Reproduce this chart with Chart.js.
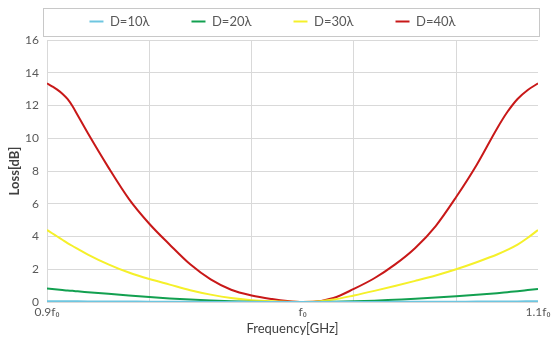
<!DOCTYPE html>
<html>
<head>
<meta charset="utf-8">
<script src="https://cdn.jsdelivr.net/npm/chart.js@4"></script>
<style>
  html, body { margin: 0; padding: 0; background: #fff; }
  #wrap { width: 556px; height: 340px; }
</style>
</head>
<body>
<div id="wrap"><canvas id="myChart"></canvas></div>
<script>
// sample index along the frequency axis (0 = 0.9f0, 50 = f0, 96 = 1.1f0)
const samples = [0, 1, 2, 3, 4, 5, 6, 8, 12, 16, 20, 24, 28, 32, 36, 40, 44, 47, 50, 52, 56, 60, 64, 68, 72, 76, 80, 84, 88, 90, 92, 94, 96];

const loss10 = [0.05, 0.049, 0.047, 0.046, 0.044, 0.043, 0.041, 0.038, 0.032, 0.026, 0.02, 0.015, 0.01, 0.007, 0.004, 0.002, 0.001, 0, 0, 0, 0.001, 0.003, 0.005, 0.008, 0.011, 0.015, 0.02, 0.025, 0.031, 0.035, 0.038, 0.044, 0.05];
const loss20 = [0.82, 0.79, 0.76, 0.73, 0.7, 0.68, 0.65, 0.6, 0.5, 0.4, 0.3, 0.22, 0.15, 0.09, 0.05, 0.02, 0.005, 0.001, 0, 0, 0.01, 0.04, 0.08, 0.14, 0.2, 0.27, 0.35, 0.44, 0.54, 0.6, 0.66, 0.73, 0.8];
const loss30 = [4.4, 4.2, 4.0, 3.8, 3.6, 3.42, 3.25, 2.9, 2.3, 1.8, 1.4, 1.06, 0.72, 0.45, 0.24, 0.11, 0.04, 0.01, 0, 0.01, 0.15, 0.4, 0.68, 0.98, 1.29, 1.62, 2.0, 2.43, 2.9, 3.18, 3.5, 3.92, 4.4];
const loss40 = [13.35, 13.17, 12.97, 12.72, 12.4, 11.95, 11.4, 10.3, 8.22, 6.3, 4.78, 3.5, 2.3, 1.38, 0.75, 0.4, 0.18, 0.06, 0, 0.01, 0.24, 0.8, 1.45, 2.28, 3.3, 4.64, 6.41, 8.37, 10.6, 11.6, 12.4, 12.95, 13.35];

const seriesNames = ['D=10λ', 'D=20λ', 'D=30λ', 'D=40λ'];
const seriesColors = ['#6ec6e0', '#12a050', '#f5f02a', '#c81818'];
const tickText = { 0: '0.9f₀', 50: 'f₀', 96: '1.1f₀' };

const FONT = 'Lato, "Open Sans", "DejaVu Sans", sans-serif';
const LEGEND_GAP = 42;

function pts(values) {
  return samples.map((s, i) => ({ x: s, y: values[i] }));
}

const allSeries = [loss10, loss20, loss30, loss40];

// grey frame round the legend, and a little more room under it
const legendFrame = {
  id: 'legendFrame',
  afterInit(chart) {
    const lg = chart.legend;
    const fit = lg.fit;
    lg.fit = function () { fit.call(this); this.height += 2; };
  },
  afterDraw(chart) {
    const ctx = chart.ctx;
    const ca = chart.chartArea;
    const cy = Math.round(chart.legend.top + LEGEND_GAP + 6.5);
    ctx.save();
    ctx.strokeStyle = '#c8c8c8';
    ctx.lineWidth = 1;
    ctx.strokeRect(ca.left - 3.5, cy - 13.5, ca.right - ca.left + 5, 28);
    ctx.restore();
  }
};

new Chart(document.getElementById('myChart'), {
  type: 'line',
  data: {
    datasets: allSeries.map((v, i) => ({
      label: seriesNames[i],
      data: pts(v),
      borderColor: seriesColors[i],
      backgroundColor: seriesColors[i],
      borderWidth: 2,
      pointRadius: 0,
      cubicInterpolationMode: 'monotone',
      fill: false
    }))
  },
  options: {
    responsive: true,
    maintainAspectRatio: false,
    animation: false,
    layout: { padding: { top: -27, right: 18, left: 7, bottom: 0 } },
    scales: {
      x: {
        type: 'linear',
        min: 0,
        max: 96,
        afterBuildTicks: (scale) => {
          scale.ticks = [0, 20, 40, 50, 60, 80, 96].map(v => ({ value: v }));
        },
        afterFit: (scale) => { scale.height = 38; },
        grid: {
          color: (c) => (c.tick && c.tick.value % 20 === 0 && c.tick.value < 96) ? '#d9d9d9' : 'rgba(0,0,0,0)',
          drawTicks: false
        },
        border: { display: false },
        ticks: {
          autoSkip: false,
          maxRotation: 0,
          padding: 3,
          color: '#595959',
          font: { family: FONT, size: 12 },
          callback: (v) => tickText[v] || ''
        },
        title: {
          display: true,
          text: 'Frequency[GHz]',
          color: '#404040',
          font: { family: FONT, size: 13 },
          padding: { top: 0, bottom: 3 }
        }
      },
      y: {
        min: 0,
        max: 16,
        afterFit: (scale) => { scale.width = 40; },
        ticks: {
          stepSize: 2,
          padding: 8,
          color: '#595959',
          font: { family: FONT, size: 12 }
        },
        grid: { color: '#d9d9d9', drawTicks: false },
        border: { display: false },
        title: {
          display: true,
          text: 'Loss[dB]',
          color: '#404040',
          font: { family: FONT, size: 13, weight: 'bold' },
          padding: { top: 0, bottom: 0 }
        }
      }
    },
    plugins: {
      legend: {
        position: 'top',
        labels: {
          usePointStyle: true,
          pointStyle: 'line',
          pointStyleWidth: 14,
          padding: LEGEND_GAP,
          color: '#595959',
          font: { family: FONT, size: 13 }
        }
      },
      tooltip: { enabled: false }
    }
  },
  plugins: [legendFrame]
});
</script>
</body>
</html>
